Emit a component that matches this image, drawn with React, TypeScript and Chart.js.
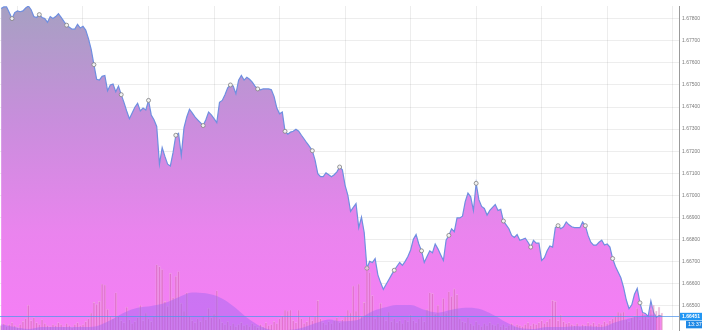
import React, { useEffect, useRef } from "react";
import { Chart, registerables } from "chart.js";

Chart.register(...registerables);

// Price series (one value per bar, oldest first)
const PRICES = [
  1.67847, 1.67854, 1.67854, 1.67828, 1.67801, 1.67828, 1.67836, 1.67832, 1.67836, 1.67849,
  1.67858, 1.67841, 1.67810, 1.67806, 1.67819, 1.67806, 1.67801, 1.67784, 1.67810, 1.67801,
  1.67810, 1.67823, 1.67806, 1.67788, 1.67771, 1.67762, 1.67753, 1.67753, 1.67775, 1.67758,
  1.67766, 1.67749, 1.67710, 1.67661, 1.67592, 1.67526, 1.67522, 1.67539, 1.67543, 1.67474,
  1.67500, 1.67504, 1.67469, 1.67495, 1.67456, 1.67421, 1.67382, 1.67347, 1.67373, 1.67399,
  1.67417, 1.67382, 1.67395, 1.67386, 1.67430, 1.67364, 1.67342, 1.67312, 1.67141, 1.67216,
  1.67176, 1.67141, 1.67133, 1.67194, 1.67272, 1.67281, 1.67181, 1.67307, 1.67355, 1.67390,
  1.67373, 1.67355, 1.67342, 1.67329, 1.67316, 1.67342, 1.67377, 1.67364, 1.67347, 1.67329,
  1.67421, 1.67430, 1.67456, 1.67487, 1.67500, 1.67495, 1.67460, 1.67522, 1.67543, 1.67522,
  1.67535, 1.67526, 1.67513, 1.67495, 1.67482, 1.67478, 1.67482, 1.67482, 1.67482, 1.67478,
  1.67447, 1.67395, 1.67369, 1.67377, 1.67290, 1.67277, 1.67286, 1.67290, 1.67299, 1.67290,
  1.67272, 1.67255, 1.67237, 1.67220, 1.67202, 1.67159, 1.67098, 1.67084, 1.67084, 1.67102,
  1.67093, 1.67084, 1.67093, 1.67106, 1.67128, 1.67115, 1.67045, 1.67001, 1.66927, 1.66945,
  1.66962, 1.66853, 1.66901, 1.66831, 1.66669, 1.66700, 1.66695, 1.66713, 1.66639, 1.66604,
  1.66573, 1.66595, 1.66617, 1.66639, 1.66660, 1.66678, 1.66695, 1.66682, 1.66700, 1.66722,
  1.66752, 1.66800, 1.66822, 1.66779, 1.66748, 1.66695, 1.66722, 1.66748, 1.66739, 1.66779,
  1.66757, 1.66730, 1.66704, 1.66796, 1.66818, 1.66848, 1.66835, 1.66897, 1.66897, 1.66905,
  1.66971, 1.67010, 1.66993, 1.66931, 1.67054, 1.66980, 1.66949, 1.66940, 1.66910, 1.66931,
  1.66945, 1.66958, 1.66931, 1.66936, 1.66883, 1.66866, 1.66848, 1.66818, 1.66809, 1.66822,
  1.66796, 1.66800, 1.66805, 1.66787, 1.66765, 1.66796, 1.66783, 1.66783, 1.66704, 1.66717,
  1.66748, 1.66770, 1.66765, 1.66853, 1.66862, 1.66848, 1.66857, 1.66879, 1.66866, 1.66857,
  1.66853, 1.66853, 1.66853, 1.66879, 1.66862, 1.66818, 1.66787, 1.66774, 1.66774, 1.66787,
  1.66796, 1.66774, 1.66779, 1.66765, 1.66713, 1.66678, 1.66652, 1.66626, 1.66582, 1.66525,
  1.66486, 1.66503, 1.66551, 1.66577, 1.66512, 1.66468, 1.66464, 1.66451, 1.66521, 1.66468,
  1.66446, 1.66455, 1.66451,
];

// Volume per bar (arbitrary units)
const VOLUMES = [
  5, 7, 4, 6, 8, 5, 3, 6, 9, 12,
  26, 10, 13, 8, 6, 11, 7, 5, 4, 6,
  5, 8, 6, 4, 7, 5, 3, 6, 8, 5,
  6, 9, 12, 18, 29, 27, 30, 48, 47, 22,
  15, 12, 39, 14, 10, 8, 24, 11, 7, 9,
  13, 26, 10, 18, 12, 9, 15, 68, 66, 63,
  30, 25, 59, 34, 56, 61, 28, 20, 39, 15,
  10, 8, 12, 9, 14, 11, 23, 13, 17, 41,
  12, 8, 6, 9, 5, 7, 4, 6, 8, 5,
  6, 4, 7, 5, 3, 6, 4, 8, 5, 6,
  9, 7, 12, 15, 21, 20, 21, 10, 8, 21,
  12, 7, 9, 14, 10, 15, 31, 12, 8, 6,
  9, 7, 10, 13, 8, 11, 14, 21, 18, 46,
  20, 48, 15, 29, 66, 60, 36, 12, 16, 28,
  14, 10, 19, 9, 12, 8, 10, 7, 11, 9,
  16, 10, 8, 12, 14, 9, 22, 39, 38, 17,
  26, 14, 33, 18, 40, 35, 43, 37, 12, 9,
  8, 13, 7, 5, 9, 6, 4, 7, 5, 8,
  6, 5, 7, 4, 6, 3, 5, 7, 4, 6,
  5, 4, 6, 8, 5, 7, 6, 8, 10, 7,
  9, 12, 31, 30, 10, 16, 9, 7, 8, 6,
  5, 7, 4, 6, 5, 8, 6, 8, 5, 7,
  6, 9, 7, 10, 12, 14, 19, 18, 19, 11,
  9, 13, 15, 23, 11, 18, 14, 12, 22, 26,
  20, 24, 18,
];

// Smoothed volume indicator, one value every VOLUME_MA_STEP bars
const VOLUME_MA_STEP = 5;
const VOLUME_MA = [
  6, 3, 1, 3, 3, 3, 3, 4, 10, 18,
  23, 25, 28, 34, 39, 38, 34, 25, 13, 4,
  0, 0, 2, 7, 11, 9, 10, 18, 23, 26,
  26, 21, 18, 21, 23, 22, 16, 8, 2, 1,
  3, 3, 4, 4, 3, 8, 12, 15, 16,
];

const Y_TICKS = [
  1.678, 1.677, 1.676, 1.675, 1.674, 1.673, 1.672, 1.671, 1.67, 1.669, 1.668, 1.667,
  1.666, 1.665,
];
const TIME_GRID = [6, 30, 54, 78, 102, 126, 150, 174, 198, 222, 246];
const CURRENT_PRICE = 1.66451;
const CURRENT_TIME = "13:37";
const MARKER_EVERY = 10;
const MARKER_OFFSET = 4;

const Y_MIN = 1.66389;
const Y_MAX = 1.67858;
const X_MIN = -0.4;
const X_MAX = 248.3;

export default function App() {
  const canvasRef = useRef<HTMLCanvasElement | null>(null);

  useEffect(() => {
    document.body.style.margin = "0";
    const canvas = canvasRef.current;
    if (!canvas) return;

    const labels = PRICES.map((_, i) => i);

    const priceTag = {
      id: "priceTag",
      afterDraw(chart: any) {
        const { ctx, chartArea, scales } = chart;
        const y = scales.y.getPixelForValue(CURRENT_PRICE);
        ctx.save();
        ctx.strokeStyle = "rgba(80,150,235,0.75)";
        ctx.lineWidth = 1;
        ctx.beginPath();
        ctx.moveTo(chartArea.left, Math.round(y) + 0.5);
        ctx.lineTo(chartArea.right, Math.round(y) + 0.5);
        ctx.stroke();

        ctx.fillStyle = "#2196f3";
        ctx.fillRect(chartArea.right + 1, y - 3.5, 23, 7.5);
        ctx.fillStyle = "#1e88e5";
        ctx.fillRect(chartArea.right + 7, y + 4.5, 17, 7.5);

        ctx.fillStyle = "#ffffff";
        ctx.font = "bold 5px 'Liberation Sans', Arial, sans-serif";
        ctx.textBaseline = "middle";
        ctx.textAlign = "left";
        ctx.fillText(CURRENT_PRICE.toFixed(5), chartArea.right + 3, y + 0.3);
        ctx.font = "5.5px 'Liberation Sans', Arial, sans-serif";
        ctx.fillText(CURRENT_TIME, chartArea.right + 9, y + 8.4);
        ctx.restore();
      },
    };

    const chart = new Chart(canvas, {
      type: "line",
      data: {
        labels,
        datasets: [
          {
            type: "line",
            label: "Price",
            data: PRICES,
            yAxisID: "y",
            order: 3,
            borderColor: "#6f8fe0",
            borderWidth: 1.2,
            tension: 0,
            fill: "start",
            backgroundColor: (c: any) => {
              const area = c.chart.chartArea;
              if (!area) return "rgba(220,140,230,1)";
              const g = c.chart.ctx.createLinearGradient(0, area.top, 0, area.bottom);
              g.addColorStop(0, "rgb(166,160,194)");
              g.addColorStop(0.35, "rgb(200,142,220)");
              g.addColorStop(0.7, "rgb(234,132,238)");
              g.addColorStop(1, "rgb(246,126,246)");
              return g;
            },
            pointRadius: (c: any) =>
              c.dataIndex % MARKER_EVERY === MARKER_OFFSET ? 2 : 0,
            pointBackgroundColor: "#f2f2f2",
            pointBorderColor: "#808080",
            pointBorderWidth: 0.8,
            pointHoverRadius: 0,
          } as any,
          {
            type: "bar",
            label: "Volume",
            data: VOLUMES,
            yAxisID: "yv",
            order: 2,
            backgroundColor: "rgba(205,95,160,0.45)",
            borderColor: "rgba(238,190,220,0.65)",
            borderWidth: 0.6,
            barPercentage: 0.9,
            categoryPercentage: 1,
          } as any,
          {
            type: "line",
            label: "Volume MA",
            data: VOLUME_MA.map((v, k) => ({ x: k * VOLUME_MA_STEP, y: v })),
            yAxisID: "yv",
            order: 1,
            borderWidth: 0,
            borderColor: "rgba(0,0,0,0)",
            backgroundColor: "rgba(150,100,240,0.42)",
            fill: "origin",
            cubicInterpolationMode: "monotone",
            pointRadius: 0,
          } as any,
        ],
      },
      options: {
        animation: false,
        responsive: true,
        maintainAspectRatio: false,
        layout: { padding: 0 },
        plugins: {
          legend: { display: false },
          tooltip: { enabled: false },
        },
        events: [],
        scales: {
          x: {
            type: "linear",
            min: X_MIN,
            max: X_MAX,
            offset: false,
            z: 1,
            afterBuildTicks: (axis: any) => {
              axis.ticks = TIME_GRID.map((v) => ({ value: v }));
            },
            ticks: { display: false },
            grid: {
              color: "rgba(0,0,0,0.07)",
              drawTicks: false,
              lineWidth: 1,
              offset: false,
            },
            border: { display: false },
          },
          y: {
            type: "linear",
            position: "right",
            min: Y_MIN,
            max: Y_MAX,
            z: 1,
            afterBuildTicks: (axis: any) => {
              axis.ticks = Y_TICKS.map((v) => ({ value: v }));
            },
            afterFit: (axis: any) => {
              axis.width = 23;
            },
            ticks: {
              padding: 3,
              color: "#7a7a7a",
              font: { size: 5, family: "'Liberation Sans', Arial, sans-serif" },
              callback: (v: any) => Number(v).toFixed(5),
            },
            grid: { color: "rgba(0,0,0,0.07)", drawTicks: false, lineWidth: 1 },
            border: { display: true, color: "#9a9a9a", width: 1 },
          },
          yv: {
            type: "linear",
            display: false,
            min: 0,
            max: 336,
          },
        },
      } as any,
      plugins: [priceTag],
    });

    return () => chart.destroy();
  }, []);

  return (
    <div style={{ width: 702, height: 336, position: "relative" }}>
      <canvas ref={canvasRef} />
    </div>
  );
}
